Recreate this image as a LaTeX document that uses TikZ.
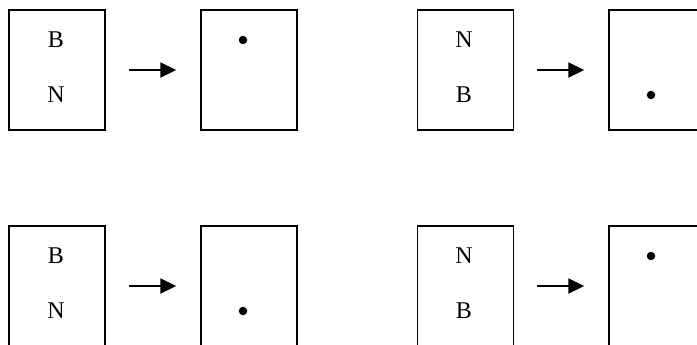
\documentclass[tikz,border=0pt]{standalone}
\usepackage{fontspec}
\setmainfont{Liberation Serif}
\usetikzlibrary{arrows.meta, positioning}

\begin{document}
\begin{tikzpicture}[
    x=1pt, y=-1pt,
    card/.style={draw, line width=1.4pt, minimum width=96pt, minimum height=120pt, inner sep=0pt},
    letter/.style={font=\fontsize{24}{28}\selectfont, inner sep=0pt},
    spot/.style={circle, fill, minimum size=8.5pt, inner sep=0pt},
    move/.style={-{Triangle[length=16pt, width=15pt]}, line width=1.8pt, shorten <=23pt, shorten >=24pt}
]
    \useasboundingbox (0,0) rectangle (697,345);
    \clip (0,0) rectangle (697,345);

    \node[card] (ia) at (57,70) {};
    \node[letter] (ia1) at (56,40) {B};
    \node[letter] (ia2) at (56,95) {N};
    \node[card] (oa) at (249,70) {};
    \node[spot] (da) at (243,40) {};
    \draw[move] (ia) -- (oa);

    \node[card] (ib) at (465.5,70) {};
    \node[letter] (ib1) at (464,40) {N};
    \node[letter] (ib2) at (464,95) {B};
    \node[card] (ob) at (657,70) {};
    \node[spot] (db) at (651,95) {};
    \draw[move] (ib) -- (ob);

    \node[card] (ic) at (57,286) {};
    \node[letter] (ic1) at (56,256) {B};
    \node[letter] (ic2) at (56,311) {N};
    \node[card] (oc) at (249,286) {};
    \node[spot] (dc) at (243,311) {};
    \draw[move] (ic) -- (oc);

    \node[card] (id) at (465.5,286) {};
    \node[letter] (id1) at (464,256) {N};
    \node[letter] (id2) at (464,311) {B};
    \node[card] (od) at (657,286) {};
    \node[spot] (dd) at (651,256) {};
    \draw[move] (id) -- (od);
\end{tikzpicture}
\end{document}
